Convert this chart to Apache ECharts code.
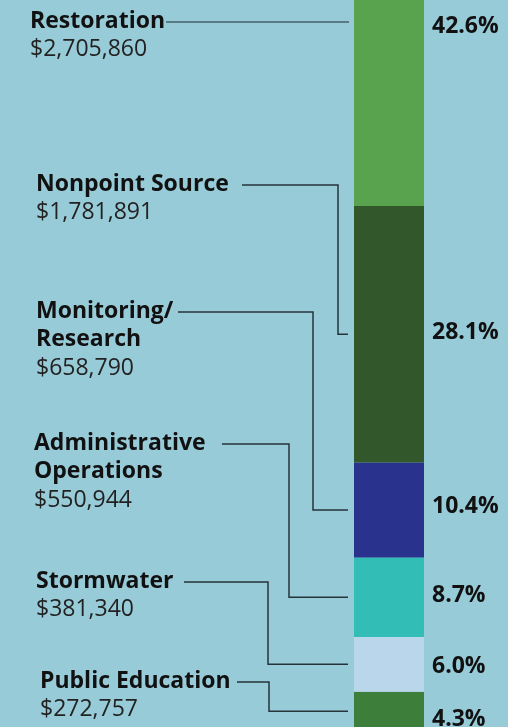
<!DOCTYPE html>
<html>
<head>
<meta charset="utf-8">
<title>Program budget by category</title>
<script src="https://cdn.jsdelivr.net/npm/echarts@6/dist/echarts.min.js"></script>
<style>
  html, body { margin: 0; padding: 0; background: #98cbd8; }
  #chart { width: 508px; height: 727px; }
</style>
</head>
<body>
<div id="chart"></div>
<script>
// Budget categories, listed from the top of the bar to the bottom
const categories = ['Restoration', 'Nonpoint Source', 'Monitoring/\nResearch', 'Administrative\nOperations', 'Stormwater', 'Public Education'];
const amounts = [2705860, 1781891, 658790, 550944, 381340, 272757];
const shares = [42.6, 28.1, 10.4, 8.7, 6.0, 4.3];

// Segment colours (same order as categories)
const colors = ['#59a34f', '#31572b', '#29338e', '#33bdb7', '#bad6ea', '#3d7f3a'];

// Callout layout: text left edge, y of the leader's first run, leader start x, elbow x
const calloutX = [30, 36, 36, 34, 36, 40];
const calloutY = [22, 185, 312, 444, 582, 682];
const leaderStartX = [166, 242, 178, 222, 184, 237];
const elbowX = [349, 338, 313, 289, 268, 269];
const pctShift = [4, -2, -4, -2, 2, 8];

const FONT = "'Open Sans', 'Noto Sans', sans-serif";
const FONT_SIZE = 23;
const GRID_LEFT = 354, GRID_WIDTH = 70;
const LINE_H = 28.7;

const total = shares.reduce((a, b) => a + b, 0);

const chart = echarts.init(document.getElementById('chart'), null, { renderer: 'canvas' });

// Stack from the bottom up: the last category sits at the base of the bar
const order = categories.map((_, i) => i).reverse();
const series = order.map(i => ({
  type: 'bar',
  name: categories[i].replace('\n', ' '),
  stack: 'budget',
  barWidth: '100%',
  data: [shares[i]],
  itemStyle: { color: colors[i] },
  emphasis: { disabled: true }
}));

chart.setOption({
  backgroundColor: '#98cbd8',
  animation: false,
  // the bar runs past the top edge of the canvas
  grid: { left: GRID_LEFT, width: GRID_WIDTH, top: -183, height: 914, outerBoundsMode: 'none', containLabel: false },
  xAxis: { type: 'category', data: [''], show: false },
  yAxis: { type: 'value', min: 0, max: total, show: false },
  series: series
});

// Segment midpoints along the stacked bar, in pixels
const cumBelow = [];
let acc = 0;
for (const i of order) { cumBelow[i] = acc; acc += shares[i]; }
const midY = shares.map((s, i) => chart.convertToPixel({ yAxisIndex: 0 }, cumBelow[i] + s / 2));

const graphics = [];
const leaderEndX = GRID_LEFT - 6;

categories.forEach((name, i) => {
  // keep the topmost callout inside the visible area
  const endY = Math.max(midY[i], calloutY[i]);
  const y0 = calloutY[i];

  // leader line from the label to the segment
  const pts = (Math.abs(endY - y0) < 1)
    ? [[leaderStartX[i], y0], [leaderEndX + 1, y0]]
    : [[leaderStartX[i], y0], [elbowX[i], y0], [elbowX[i], endY], [leaderEndX, endY]];
  graphics.push({
    type: 'polyline',
    shape: { points: pts },
    style: { stroke: i === 0 ? '#46606a' : '#26343a', lineWidth: 1.5, fill: null },
    silent: true
  });

  // category name (bold) and amount (regular)
  const lines = name.split('\n');
  const ty = y0 - 1;
  lines.forEach((ln, k) => {
    graphics.push({
      type: 'text',
      x: calloutX[i], y: ty + k * LINE_H,
      style: { text: ln, font: `bold ${FONT_SIZE}px ${FONT}`, fill: '#111', verticalAlign: 'middle', align: 'left' },
      silent: true
    });
  });
  graphics.push({
    type: 'text',
    x: calloutX[i], y: ty + lines.length * LINE_H,
    style: { text: '$' + amounts[i].toLocaleString('en-US'), font: `${FONT_SIZE}px ${FONT}`, fill: '#222', verticalAlign: 'middle', align: 'left' },
    silent: true
  });

  // share of the total, to the right of the bar
  graphics.push({
    type: 'text',
    x: GRID_LEFT + GRID_WIDTH + 8, y: endY + pctShift[i],
    style: { text: shares[i].toFixed(1) + '%', font: `bold ${FONT_SIZE}px ${FONT}`, fill: '#111', verticalAlign: 'middle', align: 'left' },
    silent: true
  });
});

chart.setOption({ graphic: graphics });
</script>
</body>
</html>
